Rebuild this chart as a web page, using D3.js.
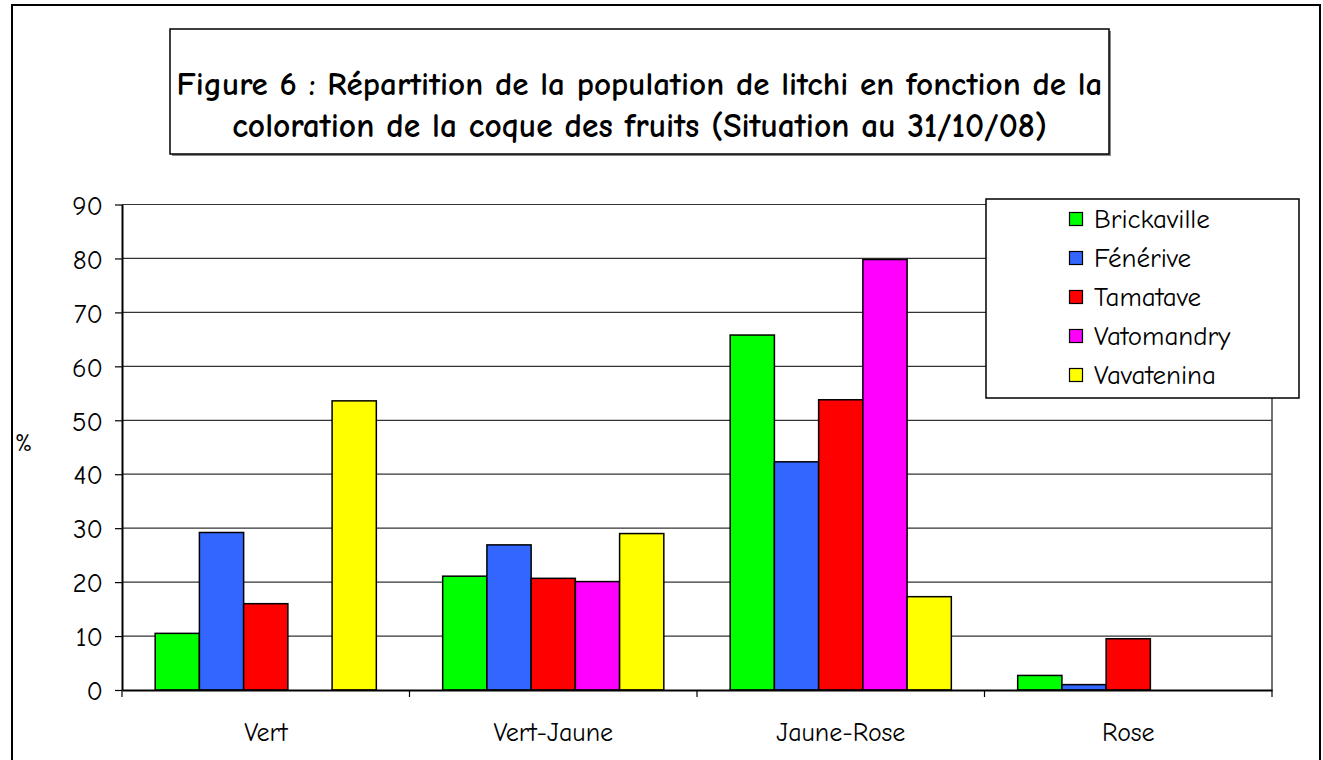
<!DOCTYPE html>
<html>
<head>
<meta charset="utf-8">
<script src="https://cdn.jsdelivr.net/npm/d3@7"></script>
<style>
  html, body { margin: 0; padding: 0; background: #fff; }
  svg { display: block; }
  text { font-family: "Comic Sans MS", "Comic Neue", "DejaVu Sans", sans-serif; fill: #000; }
</style>
</head>
<body>
<svg id="chart" width="1323" height="760"></svg>
<script>
// ---- Data ----
const categories = ["Vert", "Vert-Jaune", "Jaune-Rose", "Rose"];
const seriesNames = ["Brickaville", "Fénérive", "Tamatave", "Vatomandry", "Vavatenina"];
const seriesColors = ["#00FF00", "#3366FF", "#FF0000", "#FF00FF", "#FFFF00"];
const brickaville = [10.5, 21.1, 65.8, 2.7];
const fenerive    = [29.2, 26.9, 42.3, 1.0];
const tamatave    = [16.0, 20.7, 53.8, 9.5];
const vatomandry  = [null, 20.1, 79.8, null];
const vavatenina  = [53.6, 29.0, 17.3, null];
const seriesValues = [brickaville, fenerive, tamatave, vatomandry, vavatenina];
const yTicks = [0, 10, 20, 30, 40, 50, 60, 70, 80, 90];
const titleLines = [
  "Figure 6 : Répartition de la population de litchi en fonction de la",
  "coloration de la coque des fruits (Situation au 31/10/08)"
];
const yLabel = "%";

// ---- Layout ----
const svg = d3.select("#chart");
const plot = { left: 122, right: 1272, top: 204.5, bottom: 690 };

// fit a text element's font size so its width matches a target width
function fitWidth(sel, target, base) {
  sel.each(function () {
    const w = this.getComputedTextLength();
    if (w > 0) d3.select(this).attr("font-size", base * target / w);
  });
}

// outer frame
svg.append("rect").attr("x", 12).attr("y", 5).attr("width", 1308).attr("height", 800)
  .attr("fill", "#fff").attr("stroke", "#000").attr("stroke-width", 2);

// title box
svg.append("rect").attr("x", 172).attr("y", 31).attr("width", 939).attr("height", 125)
  .attr("fill", "#888").attr("stroke", "none");
svg.append("rect").attr("x", 170).attr("y", 29).attr("width", 939).attr("height", 125)
  .attr("fill", "#fff").attr("stroke", "#000").attr("stroke-width", 1.5);

const titleTargets = [{ y: 95, w: 926 }, { y: 137, w: 815 }];
titleLines.forEach((line, i) => {
  const t = svg.append("text")
    .attr("x", 639.5).attr("y", titleTargets[i].y)
    .attr("text-anchor", "middle")
    .attr("font-weight", "bold")
    .attr("font-size", 24)
    .text(line);
  fitWidth(t, titleTargets[i].w, 24);
});

// scales
const x0 = d3.scaleBand().domain(categories).range([plot.left, plot.right]).padding(0);
const bw = x0.bandwidth();
const gap = bw * 0.75 / 6.5;
const x1 = d3.scaleBand().domain(seriesNames).range([gap, bw - gap]).padding(0);
const y = d3.scaleLinear().domain([0, 90]).range([plot.bottom, plot.top]);

// gridlines
svg.append("g").selectAll("line").data(yTicks.filter(d => d > 0)).join("line")
  .attr("x1", plot.left).attr("x2", plot.right)
  .attr("y1", d => y(d)).attr("y2", d => y(d))
  .attr("stroke", "#333").attr("stroke-width", 1.2);

// right border of plot area
svg.append("line").attr("x1", plot.right).attr("x2", plot.right)
  .attr("y1", plot.top).attr("y2", plot.bottom)
  .attr("stroke", "#444").attr("stroke-width", 1.5);

// bars
const groups = svg.append("g").selectAll("g").data(categories).join("g")
  .attr("transform", d => `translate(${x0(d)},0)`);
groups.selectAll("rect")
  .data((c, ci) => seriesNames.map((s, si) => ({ s, si, v: seriesValues[si][ci] })).filter(d => d.v != null))
  .join("rect")
  .attr("x", d => x1(d.s))
  .attr("y", d => y(d.v))
  .attr("width", x1.bandwidth())
  .attr("height", d => y(0) - y(d.v))
  .attr("fill", d => seriesColors[d.si])
  .attr("stroke", "#000").attr("stroke-width", 1.5);

// y axis
const yAxis = d3.axisLeft(y).tickValues(yTicks).tickSize(7).tickSizeOuter(0).tickPadding(12);
const ya = svg.append("g").attr("transform", `translate(${plot.left},0)`).call(yAxis);
ya.attr("font-family", null).attr("font-size", null);
ya.select(".domain").attr("stroke", "#000").attr("stroke-width", 2);
ya.selectAll(".tick line").attr("stroke", "#000").attr("stroke-width", 1.2);
ya.selectAll(".tick text").attr("font-size", 27).attr("fill", "#000").attr("dy", "0.36em");

// x axis
const xa = svg.append("g").attr("transform", `translate(0,${plot.bottom})`)
  .call(d3.axisBottom(x0).tickSize(0).tickSizeOuter(0).tickPadding(33));
xa.attr("font-family", null).attr("font-size", null);
xa.select(".domain").attr("stroke", "#000").attr("stroke-width", 2);
xa.selectAll(".tick text").attr("font-size", 26).attr("fill", "#000");
// boundary tick marks
const bounds = categories.map(c => x0(c)).concat([plot.right]);
svg.append("g").selectAll("line").data(bounds).join("line")
  .attr("x1", d => d).attr("x2", d => d)
  .attr("y1", plot.bottom).attr("y2", plot.bottom + 7)
  .attr("stroke", "#000").attr("stroke-width", 1.2);

// y label
svg.append("text").attr("x", 15).attr("y", 451).attr("font-size", 24).text(yLabel);

// legend
svg.append("rect").attr("x", 986).attr("y", 199).attr("width", 313).attr("height", 199)
  .attr("fill", "#fff").attr("stroke", "#000").attr("stroke-width", 1.5);
const legend = svg.append("g").selectAll("g").data(seriesNames).join("g")
  .attr("transform", (d, i) => `translate(1069,${228 + i * 39})`);
legend.append("rect").attr("x", 0.5).attr("y", -15.5).attr("width", 13).attr("height", 13)
  .attr("fill", (d, i) => seriesColors[i]).attr("stroke", "#000").attr("stroke-width", 1.2);
legend.append("text").attr("x", 25).attr("y", 0).attr("font-size", 27).text(d => d);
</script>
</body>
</html>
